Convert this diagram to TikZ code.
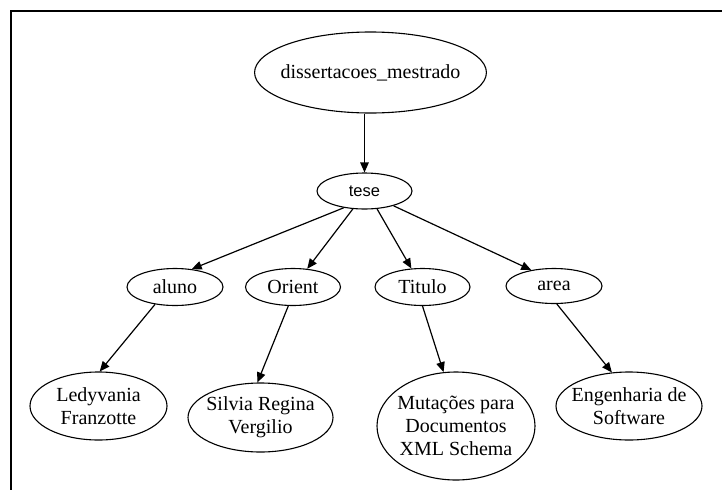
\documentclass[tikz,border=0pt]{standalone}
\usepackage{fontspec}
\setmainfont{Liberation Serif}
\newfontfamily\tesefont{Liberation Sans}
\usetikzlibrary{arrows.meta,shapes.geometric}
\begin{document}
\begin{tikzpicture}[x=1pt,y=-1pt,>={Triangle[length=10pt,width=8.5pt]},line width=1.2pt]
\tikzstyle{every node}=[draw,ellipse,inner xsep=-8pt,inner ysep=0pt,line width=1.1pt,align=center,font=\fontsize{20}{23}\selectfont]
\useasboundingbox (0,0) rectangle (722,490);
\draw[line width=2.2pt] (722,11) -- (11,11) -- (11,490);
\node[minimum width=205pt,minimum height=81pt](diss) at (370.5,72.5) {dissertacoes\_mestrado};
\node[minimum width=95pt,minimum height=36pt,font=\tesefont\fontsize{16.5}{20}\selectfont](tese) at (364.5,191) {tese};
\node[minimum width=96pt,minimum height=37pt](aluno) at (175,287) {aluno};
\node[minimum width=95pt,minimum height=37pt](orient) at (293,287) {Orient};
\node[minimum width=95pt,minimum height=37pt](titulo) at (422.5,287) {Titulo};
\node[minimum width=96pt,minimum height=35pt](area) at (554,286) {area};
\node[minimum width=137pt,minimum height=68pt](ledy) at (98.5,406) {Ledyvania\\Franzotte};
\node[minimum width=145pt,minimum height=69pt](silvia) at (260.5,417.5) {Silvia Regina\\Vergilio};
\node[minimum width=158pt,minimum height=108pt](mut) at (456,426) {Mutações para\\Documentos\\XML Schema};
\node[minimum width=146pt,minimum height=68pt](eng) at (629,406) {Engenharia de\\Software};
\draw[->] (diss.south -| tese.north) -- (tese.north);
\draw[->] (tese.219) -- (aluno.47);
\draw[->] (tese.237) -- (orient.52);
\draw[->] (tese.305) -- (titulo.121);
\draw[->] (tese.333) -- (area.145);
\draw[->] (aluno.221) -- (ledy.88);
\draw[->] (orient.256) -- (silvia.95);
\draw[->] (titulo.270) -- (mut.103);
\draw[->] (area.279) -- (eng.117);
\end{tikzpicture}
\end{document}
